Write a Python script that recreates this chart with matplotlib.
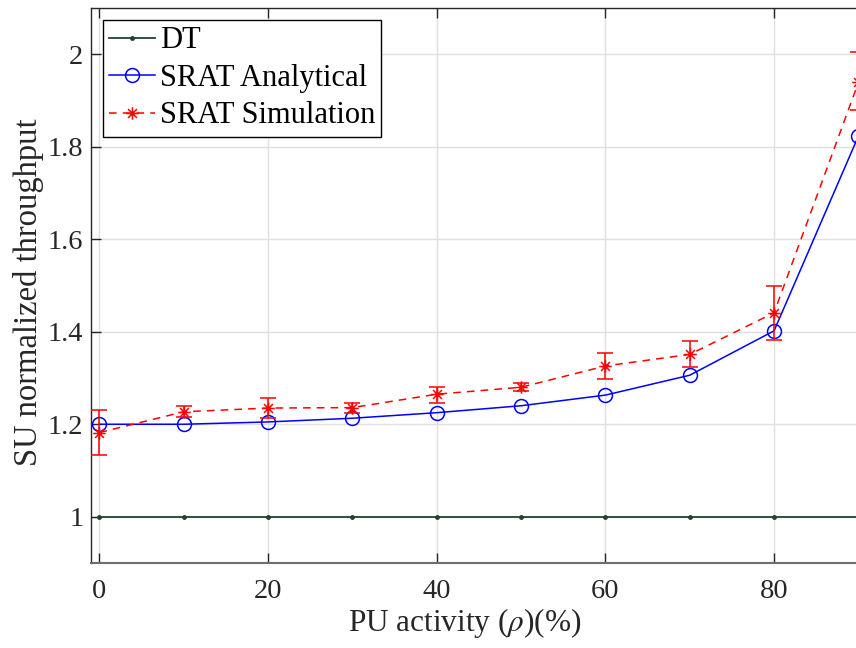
import matplotlib
matplotlib.use("Agg")
import matplotlib.pyplot as plt
from matplotlib.path import Path
import numpy as np

plt.rcParams['font.family'] = ['Liberation Serif', 'DejaVu Serif']
plt.rcParams['mathtext.fontset'] = 'stix'

# PU activity levels (%)
rho = [0, 10, 20, 30, 40, 50, 60, 70, 80, 90]

# Direct transmission baseline
dt_throughput = [1, 1, 1, 1, 1, 1, 1, 1, 1, 1]

# SRAT analytical result
srat_analytical = [1.200, 1.200, 1.205, 1.213, 1.225, 1.240, 1.263, 1.306, 1.402, 1.823]

# SRAT simulation mean and confidence bounds
srat_sim = [1.182, 1.227, 1.235, 1.236, 1.265, 1.280, 1.326, 1.351, 1.441, 1.939]
srat_sim_upper = [1.230, 1.240, 1.256, 1.247, 1.281, 1.290, 1.354, 1.380, 1.499, 2.004]
srat_sim_lower = [1.133, 1.216, 1.213, 1.224, 1.247, 1.272, 1.297, 1.324, 1.382, 1.879]

x_ticks = [0, 20, 40, 60, 80]
y_ticks = [1, 1.2, 1.4, 1.6, 1.8, 2]
y_tick_labels = ["1", "1.2", "1.4", "1.6", "1.8", "2"]

dt_color = '#21432f'
ink = '#262626'

# eight-armed asterisk marker (plus + cross)
d = 0.7071
asterisk = Path(
    [(-1, 0), (1, 0), (0, -1), (0, 1), (-d, -d), (d, d), (-d, d), (d, -d)],
    [Path.MOVETO, Path.LINETO] * 4,
)

fig = plt.figure(figsize=(8.56, 6.48), dpi=100)
ax = fig.add_axes([91 / 856, 85 / 648, 0.995, 555 / 648])

ax.plot(rho, dt_throughput, '-', color=dt_color, marker='.', markersize=5,
        linewidth=1.3, label='DT', zorder=3)
ax.plot(rho, srat_analytical, '-', color='#0000ff', marker='o', markersize=10,
        markerfacecolor='none', markeredgewidth=1.1, linewidth=1.1,
        label='SRAT Analytical', zorder=4)

sim = np.array(srat_sim)
yerr = np.vstack([sim - np.array(srat_sim_lower), np.array(srat_sim_upper) - sim])
ax.errorbar(rho, srat_sim, yerr=yerr, fmt='none', ecolor='#ff0000',
            elinewidth=1.1, capsize=6, capthick=1.1, zorder=5)
ax.plot(rho, srat_sim, '--', color='#ff0000', marker=asterisk, markersize=9,
        markeredgewidth=1.1, linewidth=1.1, dashes=(5, 4),
        label='SRAT Simulation', zorder=5)

ax.set_xlim(-1, 100)
ax.set_ylim(0.9, 2.1)
ax.set_xticks(x_ticks)
ax.set_yticks(y_ticks)
ax.set_yticklabels(y_tick_labels)

ax.grid(True, color='#e0e0e0', linewidth=1.0)
ax.set_axisbelow(True)
ax.tick_params(direction='in', length=7, width=1.0, colors=ink,
               labelsize=20.5, top=True, right=True)
ax.tick_params(axis='x', pad=11.5)
ax.tick_params(axis='y', pad=5.5)
for side in ax.spines.values():
    side.set_color(ink)
    side.set_linewidth(1.0)
ax.spines['bottom'].set_color('#6e6e6e')
ax.spines['bottom'].set_linewidth(1.5)

ax.set_xlabel(r'PU activity ($\rho$)(%)', fontsize=22.5, color=ink)
ax.set_ylabel('SU normalized throughput', fontsize=23.5, color=ink)
ax.xaxis.set_label_coords((465 - 91) / 852, -0.078)
ax.yaxis.set_label_coords((44 - 91) / 852, 0.488)

leg = ax.legend(loc='upper left', fontsize=22, frameon=True, fancybox=False,
                edgecolor='#000000', framealpha=1, handlelength=1.5,
                handletextpad=0.15, borderpad=0.2, labelspacing=0.28,
                borderaxespad=0.4)
leg.get_frame().set_linewidth(1.0)

fig.savefig('out.png', dpi=100)
